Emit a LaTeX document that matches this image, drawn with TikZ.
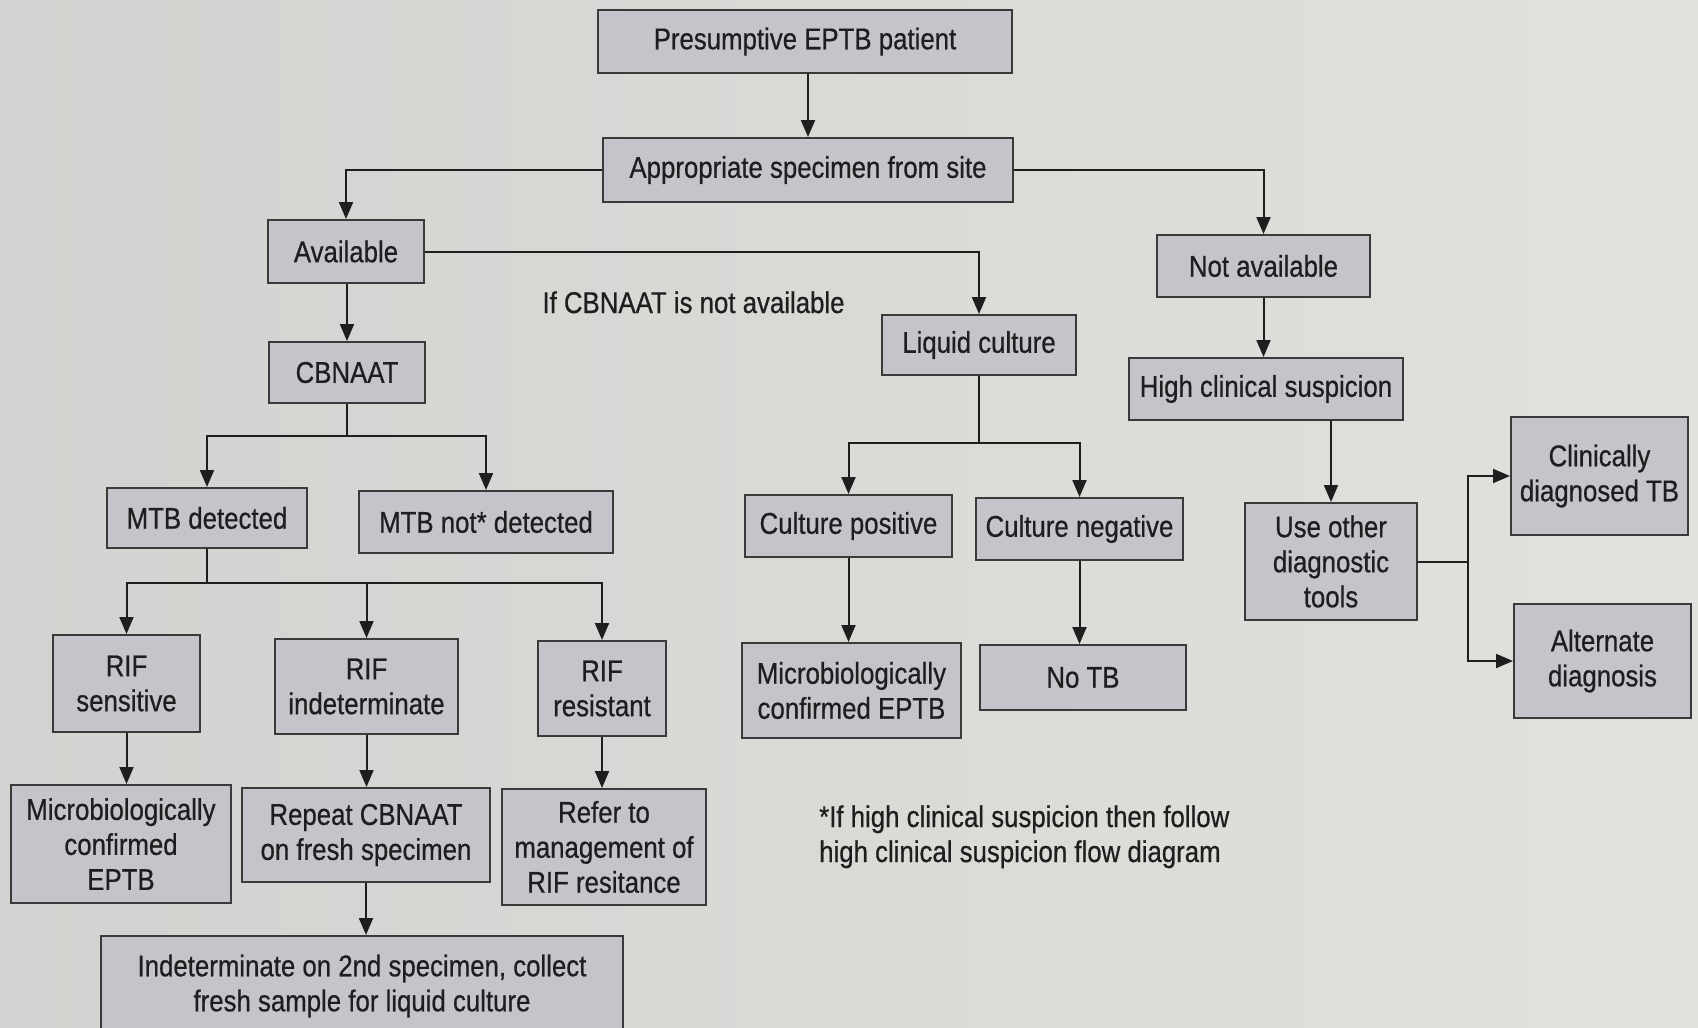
\documentclass[tikz,border=0pt]{standalone}
\usepackage{fontspec}
\setmainfont{Liberation Sans}[FakeStretch=0.86,FakeBold=0.6]
\usetikzlibrary{arrows.meta}
\definecolor{bgl}{HTML}{D2D2D0}
\definecolor{bgr}{HTML}{E2E1DD}
\definecolor{boxfill}{HTML}{C4C5CA}
\definecolor{edge}{HTML}{3A3A3A}
\definecolor{ink}{HTML}{1E1E1E}
\begin{document}
\begin{tikzpicture}[x=1pt,y=-1pt,
  box/.style={draw=edge, fill=boxfill, line width=2pt, inner sep=0pt, align=center, text=ink, font=\fontsize{30}{35}\selectfont},
  conn/.style={draw=ink, line width=2pt},
  arr/.style={conn, -{Triangle[length=17pt,width=14pt]}},
  lbl/.style={text=ink, inner sep=0pt, font=\fontsize{30}{35}\selectfont}]
\useasboundingbox (0,0) rectangle (1698,1028);
\clip (0,0) rectangle (1698,1028);
\shade[left color=bgl, right color=bgr] (0,0) rectangle (1698,1028);

% boxes
\node[box, minimum width=414pt, minimum height=63pt] (pres) at (805,41.5) {Presumptive EPTB patient};
\node[box, minimum width=410pt, minimum height=64pt] (spec) at (808,170) {Appropriate specimen from site};
\node[box, minimum width=156pt, minimum height=63pt] (avail) at (346,251.5) {Available};
\node[box, minimum width=213pt, minimum height=62pt] (notav) at (1263.5,266) {Not available};
\node[box, minimum width=156pt, minimum height=61pt] (cbn) at (347,372.5) {CBNAAT};
\node[box, minimum width=194pt, minimum height=60pt] (liq) at (979,345) {Liquid culture};
\node[box, minimum width=274pt, minimum height=62pt] (high) at (1266,389) {High clinical suspicion};
\node[box, minimum width=200pt, minimum height=60pt] (mtbd) at (207,518) {MTB detected};
\node[box, minimum width=254pt, minimum height=62pt] (mtbn) at (486,522) {MTB not* detected};
\node[box, minimum width=207pt, minimum height=62pt] (cpos) at (848.5,526) {Culture positive};
\node[box, minimum width=207pt, minimum height=62pt] (cneg) at (1079.5,529) {Culture negative};
\node[box, minimum width=172pt, minimum height=117pt] (useo) at (1331,561.5) {Use other\\diagnostic\\tools};
\node[box, minimum width=177pt, minimum height=118pt] (clin) at (1599.5,476) {Clinically\\diagnosed TB};
\node[box, minimum width=177pt, minimum height=114pt] (alt) at (1602.5,661) {Alternate\\diagnosis};
\node[box, minimum width=147pt, minimum height=97pt] (rifs) at (126.5,683.5) {RIF\\sensitive};
\node[box, minimum width=183pt, minimum height=95pt] (rifi) at (366.5,686.5) {RIF\\indeterminate};
\node[box, minimum width=128pt, minimum height=95pt] (rifr) at (602,688.5) {RIF\\resistant};
\node[box, minimum width=219pt, minimum height=95pt] (mcc) at (851.5,690.5) {Microbiologically\\confirmed EPTB};
\node[box, minimum width=206pt, minimum height=65pt] (notb) at (1083,677.5) {No TB};
\node[box, minimum width=220pt, minimum height=118pt] (mcl) at (121,844) {Microbiologically\\confirmed\\EPTB};
\node[box, minimum width=248pt, minimum height=94pt] (rep) at (366,835) {Repeat CBNAAT\\on fresh specimen};
\node[box, minimum width=204pt, minimum height=116pt] (ref) at (604,847) {Refer to\\management of\\RIF resitance};
\node[box, minimum width=522pt, minimum height=100pt] (ind) at (362,986) {Indeterminate on 2nd specimen, collect\\fresh sample for liquid culture};

% free labels
\node[lbl, anchor=base] (ifcb) at (693.5,313) {If CBNAAT is not available};
\node[lbl, anchor=base west] (fn1) at (819,827) {*If high clinical suspicion then follow};
\node[lbl, anchor=base west] (fn2) at (819,862) {high clinical suspicion flow diagram};

% junctions
\coordinate (j1) at (347,436);
\coordinate (j2) at (207,583);
\coordinate (j3) at (979,443);
\coordinate (j4) at (1468,561.5);

% connectors
\draw[arr] (pres.south -| spec.north) -- (spec.north);
\draw[arr] (spec.west) -| (avail.north);
\draw[arr] (spec.east) -| (notav.north);
\draw[arr] (avail.east) -| (liq.north);
\draw[arr] (avail.south -| cbn.north) -- (cbn.north);
\draw[conn] (cbn.south) -- (j1);
\draw[arr] (j1) -| (mtbd.north);
\draw[arr] (j1) -| (mtbn.north);
\draw[conn] (mtbd.south) -- (j2);
\draw[arr] (j2) -| (rifs.north);
\draw[arr] (j2) -| (rifi.north);
\draw[arr] (j2) -| (rifr.north);
\draw[arr] (rifs.south) -- (rifs.south |- mcl.north);
\draw[arr] (rifi.south) -- (rifi.south |- rep.north);
\draw[arr] (rifr.south) -- (rifr.south |- ref.north);
\draw[arr] (rep.south) -- (rep.south |- ind.north);
\draw[conn] (liq.south) -- (j3);
\draw[arr] (j3) -| (cpos.north);
\draw[arr] (j3) -| (cneg.north);
\draw[arr] (cpos.south) -- (cpos.south |- mcc.north);
\draw[arr] (cneg.south) -- (cneg.south |- notb.north);
\draw[arr] (notav.south) -- (notav.south |- high.north);
\draw[arr] (high.south -| useo.north) -- (useo.north);
\draw[conn] (useo.east) -- (j4);
\draw[arr] (j4) |- (clin.west);
\draw[arr] (j4) |- (alt.west);
\end{tikzpicture}
\end{document}
